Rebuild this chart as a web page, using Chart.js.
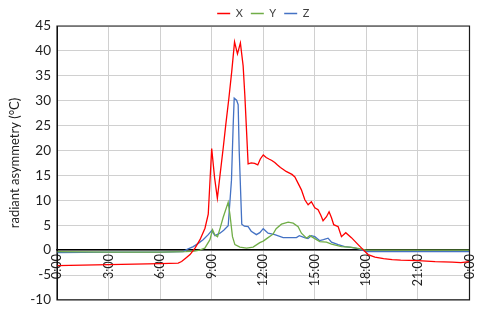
<!DOCTYPE html>
<html><head><meta charset="utf-8">
<script src="https://cdn.jsdelivr.net/npm/chart.js@4/dist/chart.umd.min.js"></script>
<style>html,body{margin:0;padding:0;background:#fff}</style>
</head><body>
<canvas id="c" width="480" height="314"></canvas>
<script>
const seriesNames = ['X', 'Y', 'Z'];
const seriesColors = ['#ff0000', '#70ad47', '#4472c4'];
const tickHours = [0, 3, 6, 9, 12, 15, 18, 21, 24];
const tickLabels = ['0:00', '3:00', '6:00', '9:00', '12:00', '15:00', '18:00', '21:00', '0:00'];
const yTitle = 'radiant asymmetry (°C)';

const xHours = [0,1.5,3,4.5,6,7.05,7.25,7.5,7.74,8.03,8.32,8.61,8.8,9.0,9.17,9.33,9.5,9.67,9.83,10.0,10.17,10.33,10.5,10.67,10.83,10.93,11.12,11.3,11.5,11.68,11.83,12.0,12.17,12.33,12.5,12.67,12.83,13.0,13.17,13.33,13.5,13.67,13.84,14.03,14.22,14.42,14.61,14.8,15.0,15.19,15.35,15.48,15.68,15.83,15.97,16.1,16.36,16.55,16.8,17.13,17.52,17.81,18.1,18.5,19.0,19.5,20,21,22,23,23.5,24];
const xValues = [-3.1,-3.0,-2.9,-2.8,-2.7,-2.6,-2.3,-1.6,-0.9,0.4,2.1,4.4,7.2,20.4,14.5,10.4,15.5,20.5,25.5,30.5,36,41.8,39.4,41.6,37,31,17.3,17.5,17.4,17.1,18.3,19.1,18.6,18.3,18.0,17.6,17.1,16.6,16.2,15.8,15.5,15.2,14.7,13.4,12.1,10.1,9.1,9.7,8.5,8.1,7.0,5.9,6.7,7.7,6.5,5.1,4.7,2.7,3.5,2.5,1.1,0.1,-0.9,-1.4,-1.7,-1.9,-2.0,-2.1,-2.3,-2.4,-2.5,-2.3];

const yHours = [0,3,6,7.5,8.0,8.3,8.6,8.9,9.05,9.19,9.34,9.5,9.67,9.96,10.06,10.21,10.35,10.64,11.03,11.41,11.8,12.0,12.28,12.57,12.75,13.06,13.45,13.74,14.03,14.22,14.52,14.71,15.0,15.29,15.68,15.97,16.55,17.03,17.6,18.0,21,24];
const yValues = [-0.3,-0.4,-0.4,-0.3,-0.2,0.0,0.4,2.1,4.1,3.0,2.7,4.5,6.6,9.6,7.2,2.7,1.1,0.6,0.4,0.6,1.5,1.8,2.5,3.2,4.3,5.2,5.6,5.4,4.7,3.4,2.4,2.9,2.3,1.7,1.6,1.2,0.7,0.6,0.3,0.0,0.0,0.0];

const zHours = [0,3,6,7.34,7.6,7.93,8.2,8.5,8.8,9.0,9.19,9.48,9.7,9.96,10.15,10.25,10.31,10.45,10.54,10.6,10.75,10.9,11.12,11.3,11.6,11.8,12.0,12.28,12.67,13.16,13.93,14.1,14.4,14.6,14.8,15.0,15.29,15.5,15.77,15.97,16.36,16.74,17.23,17.6,18.0,21,24];
const zValues = [-0.5,-0.4,-0.4,-0.3,0.2,0.7,1.3,2.1,3.1,3.9,2.9,3.4,4.0,4.9,14,25,30.5,30.1,29.2,20,5.2,4.8,4.7,3.8,3.1,3.5,4.3,3.4,3.1,2.5,2.5,2.9,2.5,2.3,2.9,2.7,1.9,2.1,2.4,1.6,1.1,0.7,0.5,0.2,-0.3,-0.3,-0.3];

const allHours = [xHours, yHours, zHours];
const allValues = [xValues, yValues, zValues];

const FONT = 'Lato, "Liberation Sans", sans-serif';

const framePlugin = {
  id: 'frame',
  afterDraw(chart) {
    const a = chart.chartArea, ctx = chart.ctx;
    ctx.save();
    ctx.setLineDash([]);
    ctx.strokeStyle = '#1a1a1a';
    ctx.lineWidth = 1.2;
    ctx.beginPath();
    ctx.rect(a.left, a.top, a.right - a.left, a.bottom - a.top);
    ctx.stroke();
    ctx.restore();
  }
};

new Chart(document.getElementById('c'), {
  type: 'line',
  data: {
    datasets: seriesNames.map((name, i) => ({
      label: name,
      data: allHours[i].map((h, j) => ({x: h, y: allValues[i][j]})),
      borderColor: seriesColors[i],
      backgroundColor: seriesColors[i],
      borderWidth: 1.3,
      pointRadius: 0,
      tension: 0,
      fill: false
    }))
  },
  options: {
    responsive: false,
    animation: false,
    layout: {padding: {top: 0, right: 10.5, bottom: 10, left: 0}},
    plugins: {
      legend: {
        position: 'top',
        fullSize: false,
        maxHeight: 26,
        labels: {
          usePointStyle: true,
          pointStyle: 'line',
          pointStyleWidth: 13,
          padding: 8,
          color: '#404040',
          font: {family: FONT, size: 11}
        }
      },
      tooltip: {enabled: false}
    },
    scales: {
      x: {
        type: 'linear',
        position: {y: 0},
        min: 0, max: 24,
        afterBuildTicks(scale) { scale.ticks = tickHours.map(v => ({value: v})); },
        afterFit(scale) { scale.paddingLeft = 0; scale.paddingRight = 0; },
        ticks: {
          autoSkip: false,
          minRotation: 90, maxRotation: 90,
          padding: 4,
          color: '#222',
          font: {family: FONT, size: 12.5},
          callback: (v, i) => tickLabels[i]
        },
        grid: {color: '#d0d0d0', lineWidth: 1, drawTicks: false},
        border: {display: true, color: '#000', width: 1.6}
      },
      y: {
        min: -10, max: 45,
        afterFit(scale) { scale.width = 57; },
        ticks: {stepSize: 5, padding: 6, color: '#222', font: {family: FONT, size: 13.5}},
        grid: {color: '#d0d0d0', lineWidth: 1, drawTicks: false},
        border: {display: true, color: '#000', width: 1},
        title: {display: true, text: yTitle, color: '#222', font: {family: FONT, size: 13}, padding: {top: 7, bottom: 0}}
      }
    }
  },
  plugins: [framePlugin]
});
</script>
</body></html>
